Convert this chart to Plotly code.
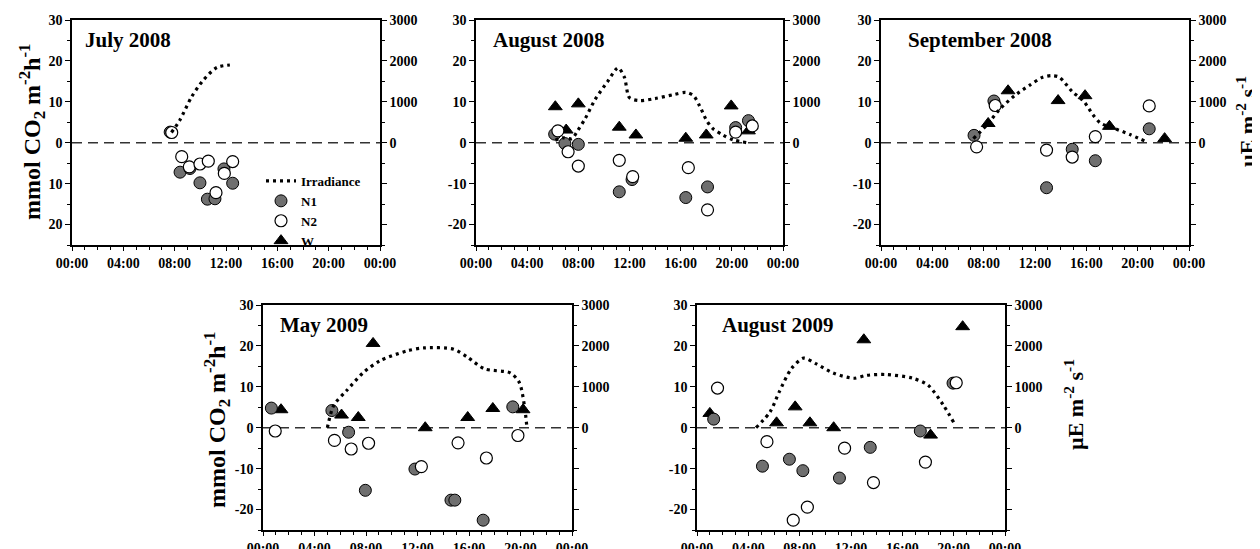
import plotly.graph_objects as go

FONT = "Liberation Serif"

# ---------------- data (hour of day, mmol CO2 m-2 h-1 ; irradiance in µE m-2 s-1) -------------
panel_titles = ["July 2008", "August 2008", "September 2008", "May 2009", "August 2009"]
time_ticks = [0, 4, 8, 12, 16, 20, 24]
time_labels = ["00:00", "04:00", "08:00", "12:00", "16:00", "20:00", "00:00"]

# July 2008
jul08_irr_h = [7.75, 8.4, 9.3, 10.2, 11.3, 12.3]
jul08_irr = [250, 550, 1110, 1520, 1840, 1900]
jul08_n1_h = [7.65, 8.42, 9.19, 9.97, 10.55, 11.14, 11.84, 12.52]
jul08_n1 = [2.6, -7.2, -6.3, -9.8, -13.8, -13.7, -6.4, -9.9]
jul08_n2_h = [7.77, 8.55, 9.14, 9.97, 10.62, 11.22, 11.87, 12.52]
jul08_n2 = [2.5, -3.4, -5.9, -5.2, -4.5, -12.2, -7.5, -4.6]
jul08_w_h = []
jul08_w = []

# August 2008
aug08_irr_h = [6.2, 6.8, 7.5, 7.9, 8.55, 9.3, 10.3, 11.1, 11.6, 12.0, 12.8, 14.0, 15.5, 16.4,
               17.0, 17.5, 18.0, 18.5, 19.3, 20.1, 21.2]
aug08_irr = [60, 120, 100, 270, 600, 1050, 1500, 1830, 1600, 1100, 1030, 1080, 1180, 1230,
             1150, 890, 560, 350, 190, 70, 0]
aug08_n1_h = [6.15, 6.95, 8.0, 11.2, 12.2, 16.4, 18.1, 20.3, 21.3]
aug08_n1 = [2.1, -0.2, -0.4, -12.0, -9.0, -13.4, -10.8, 3.7, 5.4]
aug08_n2_h = [6.4, 7.2, 8.0, 11.2, 12.25, 16.6, 18.1, 20.3, 21.6]
aug08_n2 = [2.9, -2.2, -5.7, -4.3, -8.3, -6.1, -16.4, 2.6, 4.1]
aug08_w_h = [6.2, 7.05, 8.0, 11.2, 12.5, 16.4, 18.0, 19.95, 21.3]
aug08_w = [8.8, 3.1, 9.5, 3.8, 1.9, 1.1, 1.9, 9.0, 2.9]

# September 2008
sep08_irr_h = [7.2, 8.3, 9.2, 10.4, 11.6, 12.6, 13.3, 13.9, 14.9, 15.8, 16.5, 17.1, 18.1, 19.4, 20.7]
sep08_irr = [100, 450, 800, 1150, 1410, 1600, 1640, 1600, 1250, 1010, 690, 480, 360, 200, 20]
sep08_n1_h = [7.25, 8.8, 12.9, 14.9, 16.7, 20.9]
sep08_n1 = [1.8, 10.2, -11.0, -1.6, -4.4, 3.4]
sep08_n2_h = [7.45, 8.9, 12.9, 14.9, 16.7, 20.9]
sep08_n2 = [-1.0, 9.1, -1.8, -3.5, 1.5, 9.0]
sep08_w_h = [8.35, 9.9, 13.8, 15.9, 17.8, 22.1]
sep08_w = [4.7, 12.7, 10.3, 11.5, 4.0, 1.0]

# May 2009
may09_irr_h = [5.0, 5.5, 6.5, 7.8, 9.1, 11.2, 12.5, 14.8, 15.9, 17.2, 19.2, 19.9, 20.3, 20.5]
may09_irr = [0, 550, 910, 1350, 1640, 1880, 1950, 1920, 1720, 1440, 1340, 1110, 550, 0]
may09_n1_h = [0.65, 5.35, 6.65, 7.95, 11.8, 14.6, 14.9, 17.1, 19.4]
may09_n1 = [4.8, 4.2, -1.1, -15.3, -10.1, -17.7, -17.7, -22.6, 5.1]
may09_n2_h = [0.95, 5.55, 6.85, 8.2, 12.3, 15.15, 17.35, 19.8]
may09_n2 = [-0.8, -3.1, -5.2, -3.8, -9.5, -3.7, -7.4, -1.9]
may09_w_h = [1.4, 6.1, 7.4, 8.55, 12.6, 15.9, 17.85, 20.2]
may09_w = [4.4, 3.1, 2.5, 20.6, 0.0, 2.5, 4.7, 4.4]

# August 2009
aug09_irr_h = [4.6, 5.7, 6.4, 7.35, 8.3, 9.3, 10.6, 12.2, 13.2, 14.75, 16.8, 18.0, 19.2, 20.0]
aug09_irr = [0, 390, 870, 1440, 1700, 1560, 1340, 1210, 1280, 1300, 1210, 1040, 550, 130]
aug09_n1_h = [1.3, 5.1, 7.2, 8.25, 11.1, 13.5, 17.4, 19.95]
aug09_n1 = [2.1, -9.4, -7.7, -10.5, -12.3, -4.8, -0.8, 10.9]
aug09_n2_h = [1.6, 5.45, 7.5, 8.6, 11.5, 13.75, 17.8, 20.2]
aug09_n2 = [9.7, -3.4, -22.6, -19.4, -5.0, -13.4, -8.4, 11.0]
aug09_w_h = [1.0, 6.2, 7.65, 8.8, 10.65, 13.0, 18.2, 20.7]
aug09_w = [3.5, 1.2, 5.1, 1.2, 0.0, 21.5, -1.8, 24.7]

left_ticks = [-20, -10, 0, 10, 20, 30]
left_labels_plain = ["-20", "-10", "0", "10", "20", "30"]
left_labels_july = ["20", "10", "0", "10", "20", "30"]
right_ticks = [-2000, -1000, 0, 1000, 2000, 3000]
right_labels = ["", "", "0", "1000", "2000", "3000"]

panels = [
    (jul08_irr_h, jul08_irr, jul08_n1_h, jul08_n1, jul08_n2_h, jul08_n2, jul08_w_h, jul08_w),
    (aug08_irr_h, aug08_irr, aug08_n1_h, aug08_n1, aug08_n2_h, aug08_n2, aug08_w_h, aug08_w),
    (sep08_irr_h, sep08_irr, sep08_n1_h, sep08_n1, sep08_n2_h, sep08_n2, sep08_w_h, sep08_w),
    (may09_irr_h, may09_irr, may09_n1_h, may09_n1, may09_n2_h, may09_n2, may09_w_h, may09_w),
    (aug09_irr_h, aug09_irr, aug09_n1_h, aug09_n1, aug09_n2_h, aug09_n2, aug09_w_h, aug09_w),
]

# ---------------- layout geometry ----------------
# Page pixel positions (1260 x 549 window); the page body has an 8px margin.
OFF = 8
W, H = 1260 - OFF, 549 - OFF


def px(xp):
    return (xp - OFF) / W


def py(yp):
    return 1 - (yp - OFF) / H


boxes = [  # (left, right, top, bottom) in page pixels
    (72, 380, 20, 245),
    (476, 783, 20, 245),
    (881, 1189, 20, 245),
    (263, 572, 305, 530),
    (697, 1005, 305, 530),
]
title_offsets = [11, 15, 25, 15, 23]

fig = go.Figure()
layout = dict(
    width=W, height=H,
    margin=dict(l=0, r=0, t=0, b=0, pad=0, autoexpand=False),
    paper_bgcolor="white", plot_bgcolor="white",
    font=dict(family=FONT, size=14, color="black"),
    showlegend=True,
    legend=dict(x=px(261), y=py(166), xanchor="left", yanchor="top",
                bgcolor="rgba(0,0,0,0)", font=dict(family=FONT, size=13, weight="bold"),
                tracegroupgap=0, itemwidth=30),
    shapes=[], annotations=[],
)

tickfont = dict(family=FONT, size=14, weight="bold", color="black")

for i, (box, data) in enumerate(zip(boxes, panels)):
    l, r, t, b = box
    xid = "x" if i == 0 else f"x{i + 1}"
    yl_n = 2 * i + 1
    yr_n = 2 * i + 2
    ylid = "y" if yl_n == 1 else f"y{yl_n}"
    yrid = f"y{yr_n}"
    xkey = "xaxis" if i == 0 else f"xaxis{i + 1}"
    ylkey = "yaxis" if yl_n == 1 else f"yaxis{yl_n}"
    yrkey = f"yaxis{yr_n}"

    layout[xkey] = dict(
        domain=[px(l), px(r)], anchor=ylid, range=[0, 24], automargin=False,
        tickmode="array", tickvals=time_ticks, ticktext=time_labels,
        ticks="outside", ticklen=4, tickwidth=1, tickcolor="black",
        minor=dict(dtick=1, ticks="outside", ticklen=3, tickcolor="black"),
        showline=True, linecolor="black", linewidth=1.5, mirror=True,
        showgrid=False, zeroline=False, tickfont=tickfont,
    )
    layout[ylkey] = dict(
        domain=[py(b), py(t)], anchor=xid, range=[-25, 30], automargin=False,
        tickmode="array", tickvals=left_ticks,
        ticktext=left_labels_july if i == 0 else left_labels_plain,
        ticks="outside", ticklen=5, tickcolor="black",
        minor=dict(dtick=5, tick0=0, ticks="outside", ticklen=3, tickcolor="black"),
        showline=True, linecolor="black", linewidth=1.5,
        showgrid=False, zeroline=False, tickfont=tickfont,
    )
    layout[yrkey] = dict(
        overlaying=ylid, side="right", anchor=xid, range=[-2500, 3000], automargin=False,
        tickmode="array", tickvals=right_ticks, ticktext=right_labels,
        ticks="outside", ticklen=5, tickcolor="black",
        minor=dict(dtick=500, tick0=0, ticks="outside", ticklen=3, tickcolor="black"),
        showline=True, linecolor="black", linewidth=1.5,
        showgrid=False, zeroline=False, tickfont=tickfont,
    )

    irr_h, irr, n1_h, n1, n2_h, n2, w_h, w = data
    first = (i == 0)
    fig.add_trace(go.Scatter(
        x=irr_h, y=irr, xaxis=xid, yaxis=yrid, mode="lines", name="Irradiance",
        line=dict(color="black", width=3.2, dash="3px,4px", shape="spline", smoothing=0.8),
        showlegend=first, legendrank=1, legendgroup="irr"))
    fig.add_trace(go.Scatter(
        x=w_h, y=w, xaxis=xid, yaxis=ylid, mode="markers", name="W",
        marker=dict(symbol="triangle-up", size=12, color="black",
                    line=dict(color="black", width=1)),
        showlegend=(i == 1), legendrank=4, legendgroup="w"))
    fig.add_trace(go.Scatter(
        x=n1_h, y=n1, xaxis=xid, yaxis=ylid, mode="markers", name="N1",
        marker=dict(symbol="circle", size=12, color="#6f6f6f",
                    line=dict(color="black", width=1)),
        showlegend=first, legendrank=2, legendgroup="n1"))
    fig.add_trace(go.Scatter(
        x=n2_h, y=n2, xaxis=xid, yaxis=ylid, mode="markers", name="N2",
        marker=dict(symbol="circle", size=12, color="white",
                    line=dict(color="black", width=1.2)),
        showlegend=first, legendrank=3, legendgroup="n2"))

    # dashed zero reference line
    layout["shapes"].append(dict(
        type="line", xref=f"{xid} domain", yref=ylid, x0=0, x1=1, y0=0, y1=0,
        line=dict(color="#333333", width=1.5, dash="10px,6px"), layer="below"))

    # panel title
    layout["annotations"].append(dict(
        text=panel_titles[i], xref=f"{xid} domain", yref=f"{ylid} domain",
        x=title_offsets[i] / (r - l), y=1 - 20 / (b - t), xanchor="left", yanchor="middle",
        showarrow=False, font=dict(family=FONT, size=21, weight="bold", color="black")))

# axis titles (centres in page pixels)
ytitle = "mmol CO<sub>2</sub> m<sup>-2</sup>h<sup>-1</sup>"
rtitle = "µE m<sup>-2</sup> s<sup>-1</sup>"
for (cx, cy, txt, size) in [(32, 132, ytitle, 24), (217, 420, ytitle, 24),
                            (1246, 122, rtitle, 22), (1074, 405, rtitle, 22)]:
    layout["annotations"].append(dict(
        text=txt, xref="paper", yref="paper", x=px(cx), y=py(cy),
        xanchor="center", yanchor="middle", textangle=-90, showarrow=False,
        font=dict(family=FONT, size=size, weight="bold", color="black")))

fig.update_layout(**layout)
fig.write_html("out.html")
